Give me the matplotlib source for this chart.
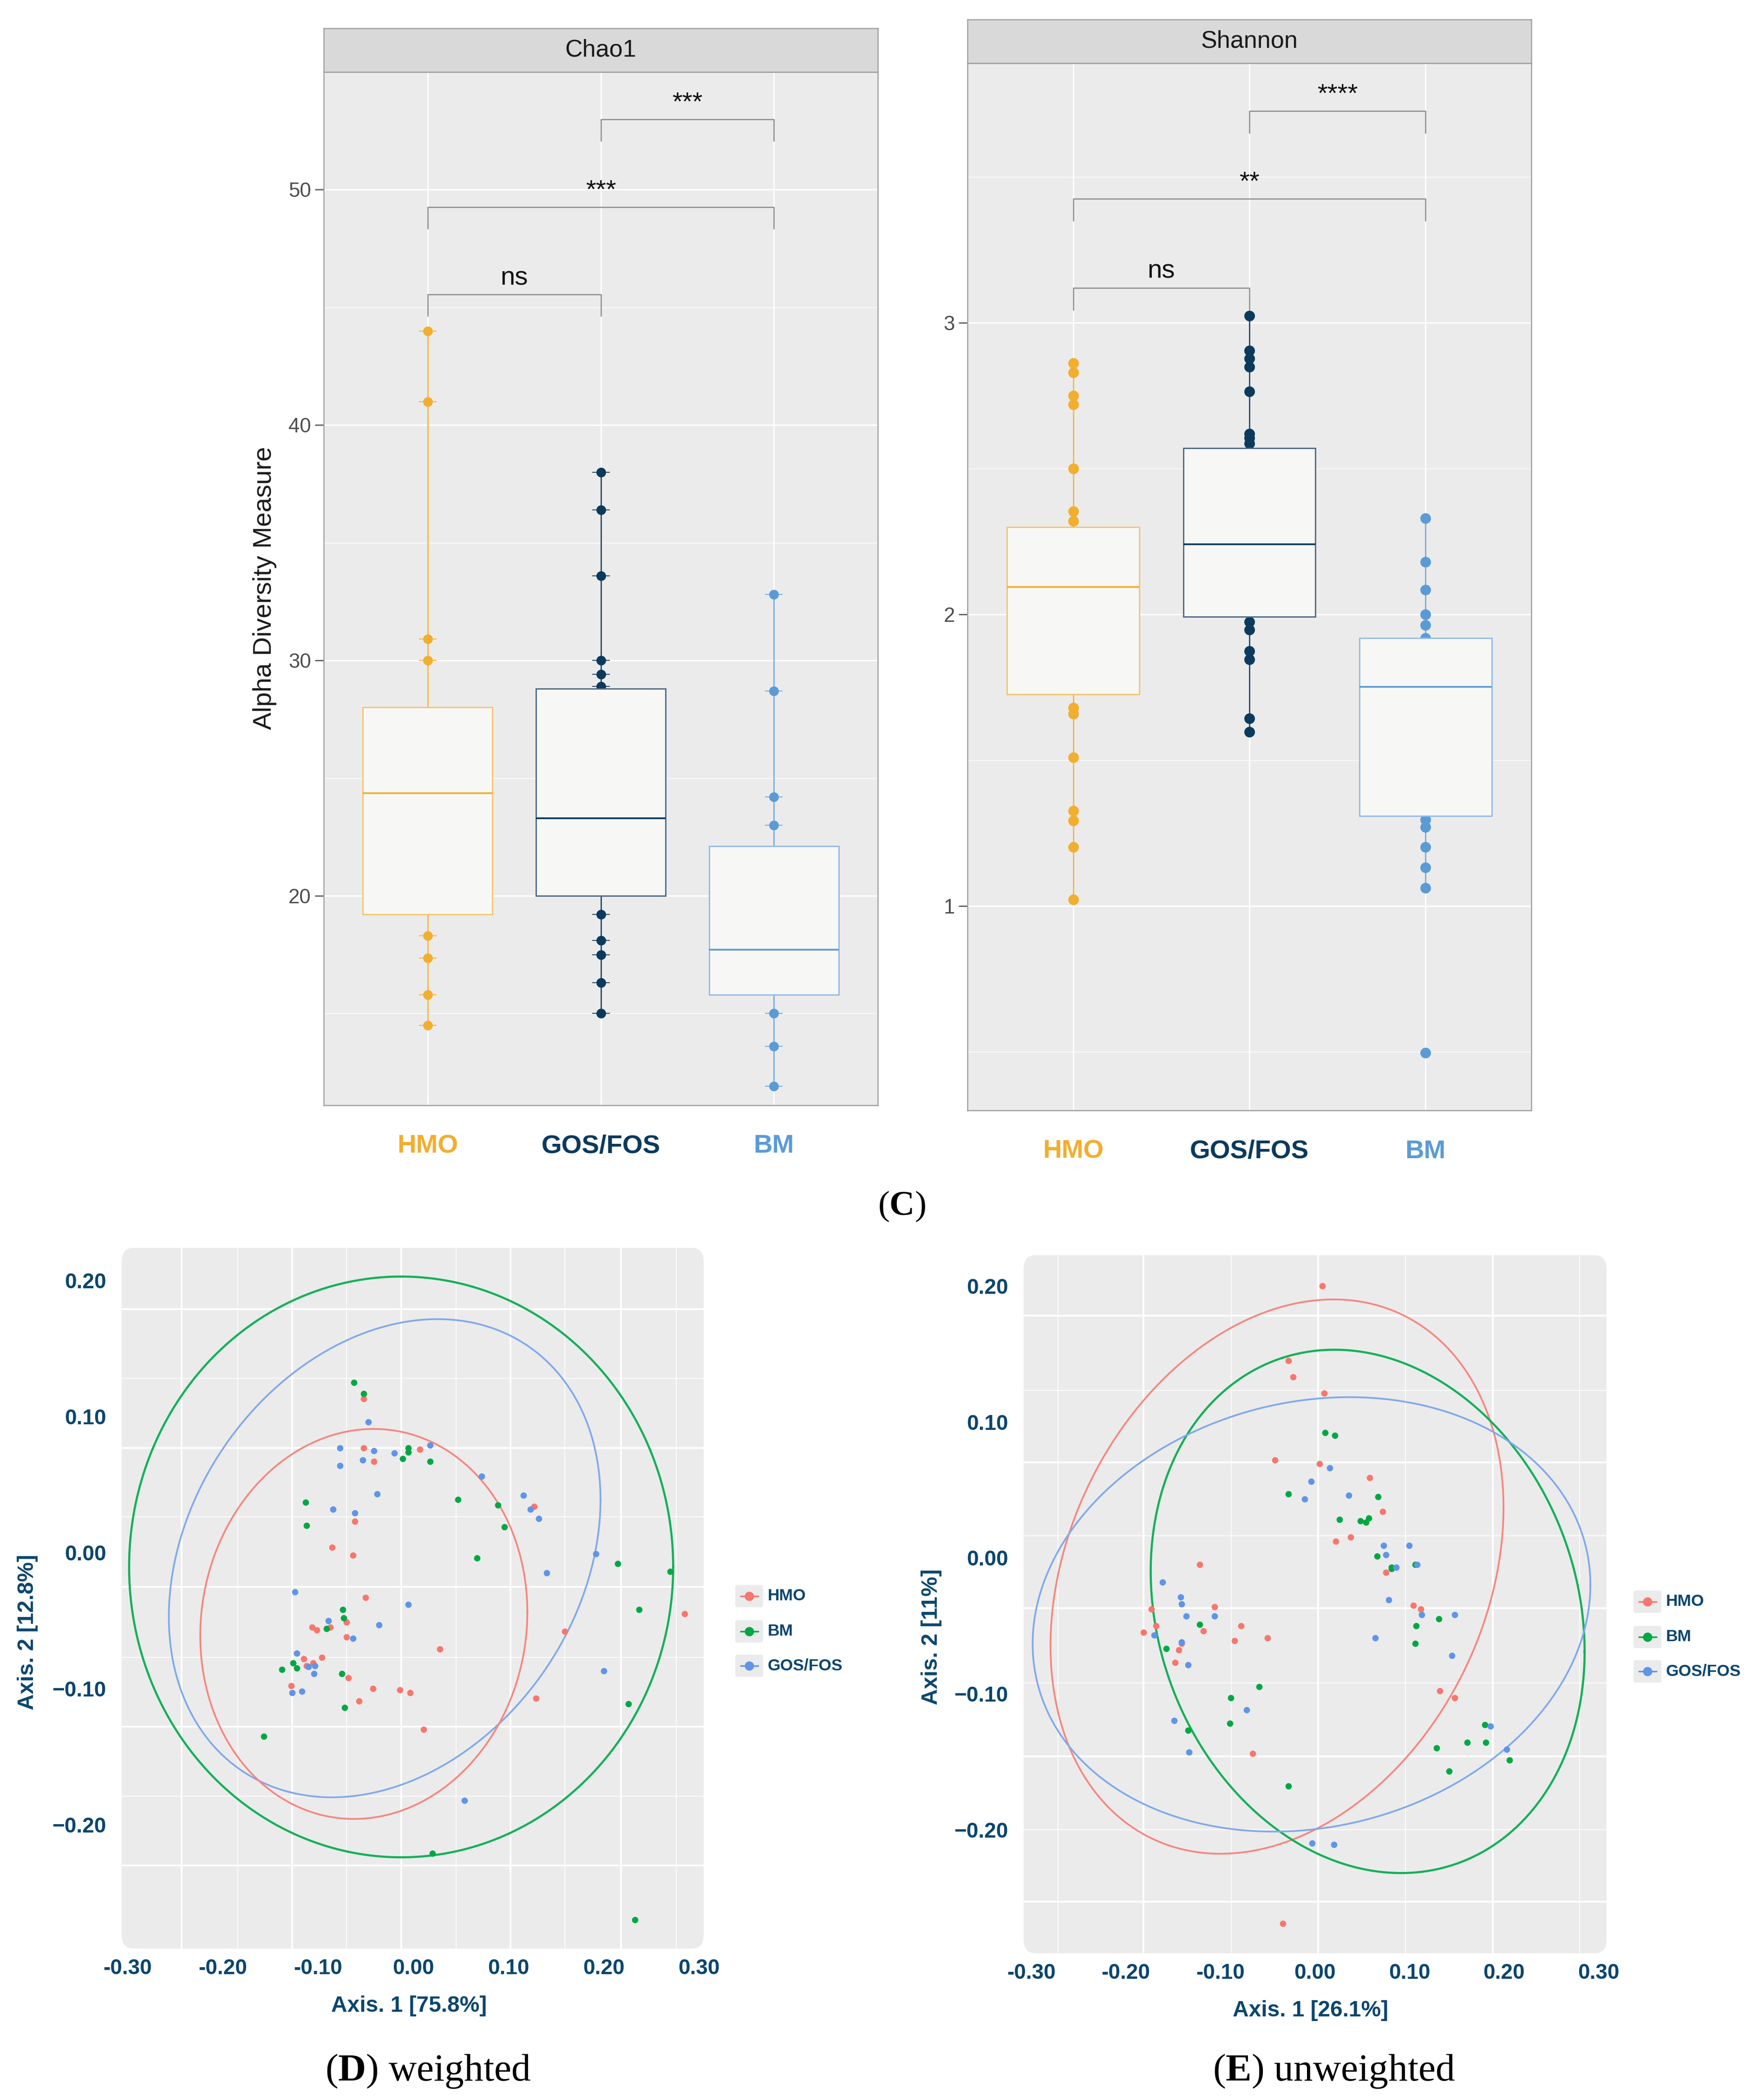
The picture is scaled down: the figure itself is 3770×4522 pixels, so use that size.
import numpy as np
import matplotlib
matplotlib.use("Agg")
import matplotlib.pyplot as plt
from matplotlib.patches import FancyBboxPatch

plt.rcParams["font.family"] = ["Liberation Sans", "DejaVu Sans"]
plt.rcParams["mathtext.fontset"] = "custom"
plt.rcParams["mathtext.rm"] = "Liberation Serif"
plt.rcParams["mathtext.bf"] = "Liberation Serif:bold"

W, H, DPI = 3770, 4522, 300

# ---------------- alpha diversity data ----------------
groups = ["HMO", "GOS/FOS", "BM"]

chao1_q1 = [19.2, 20.0, 15.8]
chao1_med = [24.35, 23.3, 17.7]
chao1_q3 = [28.0, 28.8, 22.1]
chao1_lo = [14.5, 15.0, 11.9]
chao1_hi = [44.0, 38.0, 32.8]
chao1_pts_hmo = [44.0, 41.0, 30.9, 30.0, 18.3, 17.35, 15.8, 14.5]
chao1_pts_gos = [38.0, 36.4, 33.6, 30.0, 29.4, 28.9, 19.2, 18.1, 17.5, 16.3, 15.0]
chao1_pts_bm = [32.8, 28.7, 24.2, 23.0, 15.0, 13.6, 11.9]
chao1_pairs = [(1, 2), (1, 3), (2, 3)]
chao1_bracket_y = [45.54, 49.26, 52.98]
chao1_sig = ["ns", "***", "***"]

shannon_q1 = [1.726, 1.993, 1.31]
shannon_med = [2.094, 2.24, 1.752]
shannon_q3 = [2.30, 2.571, 1.919]
shannon_lo = [1.023, 1.597, 1.063]
shannon_hi = [2.862, 3.024, 2.33]
shannon_pts_hmo = [2.862, 2.83, 2.75, 2.72, 2.5, 2.354, 2.32, 1.68, 1.66, 1.51,
                   1.327, 1.294, 1.203, 1.023]
shannon_pts_gos = [3.024, 2.904, 2.878, 2.849, 2.764, 2.62, 2.605, 2.586, 1.975,
                   1.948, 1.875, 1.846, 1.644, 1.597]
shannon_pts_bm = [2.33, 2.18, 2.084, 2.001, 1.963, 1.919, 1.297, 1.271, 1.202,
                  1.132, 1.063, 0.498]
shannon_pairs = [(1, 2), (1, 3), (2, 3)]
shannon_bracket_y = [3.12, 3.425, 3.726]
shannon_sig = ["ns", "**", "****"]

# ---------------- PCoA weighted (D) ----------------
w_hmo_x = [-0.052, -0.052, -0.041, 0.007, -0.061, -0.085, -0.063, 0.127, -0.050, -0.070,
           -0.087, -0.106, -0.101, -0.070, -0.115, -0.096, -0.105, -0.112, -0.068, -0.128,
           -0.042, -0.057, -0.014, -0.003, 0.028, 0.159, 0.129, 0.011, 0.285]
w_hmo_y = [0.113, 0.077, 0.067, 0.076, 0.023, 0.004, -0.002, 0.034, -0.033, -0.051,
           -0.055, -0.055, -0.057, -0.062, -0.078, -0.077, -0.081, -0.083, -0.092, -0.098,
           -0.100, -0.109, -0.101, -0.103, -0.071, -0.058, -0.107, -0.130, -0.045]
w_bm_x = [-0.062, -0.052, -0.005, -0.005, -0.011, 0.018, -0.113, -0.112, 0.047, 0.089,
          0.096, 0.067, 0.215, 0.270, 0.237, -0.074, -0.073, -0.091, -0.126, -0.122,
          -0.138, -0.075, -0.072, 0.226, -0.157, 0.020, 0.233]
w_bm_y = [0.125, 0.117, 0.077, 0.074, 0.069, 0.067, 0.037, 0.020, 0.039, 0.035,
          0.019, -0.004, -0.008, -0.014, -0.042, -0.042, -0.048, -0.056, -0.081, -0.085,
          -0.086, -0.089, -0.114, -0.111, -0.135, -0.221, -0.270]
w_gos_x = [-0.047, -0.077, -0.041, -0.053, -0.077, -0.020, 0.018, -0.038, -0.084, -0.061,
           0.072, 0.116, 0.123, 0.132, 0.192, 0.140, -0.124, -0.005, -0.036, -0.089,
           -0.063, -0.122, -0.110, -0.103, -0.104, -0.127, -0.117, 0.200, 0.054]
w_gos_y = [0.096, 0.077, 0.075, 0.068, 0.064, 0.073, 0.079, 0.043, 0.032, 0.029,
           0.056, 0.042, 0.032, 0.025, -0.001, -0.015, -0.029, -0.038, -0.053, -0.050,
           -0.063, -0.074, -0.084, -0.083, -0.089, -0.103, -0.102, -0.087, -0.182]
# ellipses: centre x, centre y, radius x, radius y, phase
w_ell_hmo = [-0.0518, -0.0524, 0.1717, 0.1433, 0.06]
w_ell_bm = [-0.0126, -0.0105, 0.2856, 0.2134, 0.0]
w_ell_gos = [-0.0299, -0.0041, 0.2266, 0.1757, 0.2475]

# ---------------- PCoA unweighted (E) ----------------
u_hmo_x = [0.008, -0.028, -0.023, 0.010, -0.042, 0.005, 0.058, 0.072, 0.022, 0.038,
           -0.122, 0.075, 0.104, 0.112, -0.173, -0.106, -0.168, -0.181, -0.118, -0.078,
           -0.085, -0.050, -0.141, -0.144, -0.148, 0.132, 0.148, -0.066, -0.034]
u_hmo_y = [0.200, 0.145, 0.133, 0.121, 0.072, 0.069, 0.059, 0.034, 0.012, 0.015,
           -0.005, -0.011, -0.035, -0.038, -0.038, -0.036, -0.050, -0.055, -0.054, -0.050,
           -0.061, -0.059, -0.063, -0.068, -0.077, -0.098, -0.103, -0.144, -0.269]
u_bm_x = [0.011, 0.021, -0.028, 0.067, 0.026, 0.048, 0.054, 0.057, 0.066, 0.081,
          0.081, -0.122, -0.157, 0.106, 0.131, 0.107, 0.106, -0.059, -0.089, -0.090,
          -0.134, 0.180, 0.161, 0.181, 0.129, 0.142, 0.206, -0.028]
u_bm_y = [0.092, 0.090, 0.047, 0.045, 0.028, 0.027, 0.026, 0.029, 0.001, -0.008,
          -0.007, -0.049, -0.067, -0.005, -0.045, -0.050, -0.063, -0.095, -0.103, -0.122,
          -0.127, -0.123, -0.136, -0.136, -0.140, -0.157, -0.149, -0.168]
u_gos_x = [0.016, -0.004, -0.011, 0.036, 0.073, 0.100, 0.075, 0.086, 0.108, 0.078,
           -0.161, -0.142, -0.141, -0.136, -0.106, -0.170, -0.141, -0.134, 0.113, 0.148,
           0.064, 0.145, -0.072, -0.149, -0.133, 0.186, 0.203, -0.003, 0.020]
u_gos_y = [0.066, 0.056, 0.043, 0.046, 0.009, 0.009, 0.002, -0.007, -0.005, -0.031,
           -0.018, -0.029, -0.034, -0.043, -0.043, -0.057, -0.062, -0.079, -0.042, -0.042,
           -0.059, -0.072, -0.112, -0.120, -0.143, -0.124, -0.141, -0.210, -0.211]
u_ell_hmo = [-0.040, -0.0139, 0.2396, 0.2039, 0.252]
u_ell_bm = [0.0559, -0.0395, 0.2295, 0.1925, -0.154]
u_ell_gos = [-0.0035, -0.0417, 0.295, 0.1598, 0.136]

pcoa_ticks = [-0.3, -0.2, -0.1, 0.0, 0.1, 0.2, 0.3]
pcoa_yticks = [-0.2, -0.1, 0.0, 0.1, 0.2]

# ---------------- styling ----------------
grp_col = ["#F2AE2E", "#0B3A5D", "#5B9BD5"]
edge_col = ["#F6C46E", "#4F6B86", "#93BBE8"]
whisk_col = ["#F4B847", "#2E4E6C", "#7AAEE3"]
pc_red, pc_green, pc_blue = "#F8766D", "#00A844", "#5F95E8"
el_red, el_green, el_blue = "#F7857E", "#14B058", "#7FA9EC"
navy = "#0B466E"
panel_bg = "#EBEBEB"


def rect(l, t, r, b):
    return [l / W, 1 - b / H, (r - l) / W, (b - t) / H]


fig = plt.figure(figsize=(W / DPI, H / DPI), dpi=DPI)
fig.patch.set_facecolor("white")


def ft(x, y, s, **kw):
    kw.setdefault("ha", "center")
    kw.setdefault("va", "center")
    return fig.text(x / W, 1 - y / H, s, **kw)


def alpha_panel(prect, srect, title, q1, med, q3, lo, hi, pts, ylim, major, minor,
                pairs, by, drop, sig, ms, dashes):
    ax = fig.add_axes(prect)
    ax.set_facecolor(panel_bg)
    ax.set_xlim(0.4, 3.6)
    ax.set_ylim(*ylim)
    for v in minor:
        ax.axhline(v, color="white", lw=0.35, zorder=0.5)
    for v in major:
        ax.axhline(v, color="white", lw=0.7, zorder=0.6)
    for v in [1, 2, 3]:
        ax.axvline(v, color="white", lw=0.7, zorder=0.6)

    for i in range(3):
        stats = [dict(med=med[i], q1=q1[i], q3=q3[i], whislo=lo[i], whishi=hi[i], fliers=[])]
        ax.bxp(stats, positions=[i + 1], widths=0.75, showfliers=False, showcaps=False,
               patch_artist=True, manage_ticks=False,
               boxprops=dict(facecolor="#F7F7F5", edgecolor=edge_col[i], linewidth=0.7, zorder=4),
               medianprops=dict(color=grp_col[i], linewidth=0.9, zorder=5),
               whiskerprops=dict(color=whisk_col[i], linewidth=0.7, zorder=2))
        xs = [i + 1] * len(pts[i])
        if dashes:
            ax.plot(xs, pts[i], ls="none", marker="_", ms=ms * 1.8, mew=0.5,
                    color=whisk_col[i], zorder=2.8)
        ax.plot(xs, pts[i], ls="none", marker="o", ms=ms, mec="none",
                color=grp_col[i], zorder=3)

    for (a, b), yb, s in zip(pairs, by, sig):
        ax.plot([a, a, b, b], [yb - drop, yb, yb, yb - drop], color="#8A8A8A", lw=0.6, zorder=6)
        ax.annotate(s, ((a + b) / 2, yb), xytext=(0, 5), textcoords="offset points",
                    ha="center", va="baseline", fontsize=13.5, color="#111111")

    ax.set_xticks([1, 2, 3])
    ax.set_xticklabels(groups)
    for lab, c in zip(ax.get_xticklabels(), grp_col):
        lab.set_color(c)
        lab.set_fontweight("bold")
        lab.set_fontsize(13.5)
    ax.tick_params(axis="x", length=0, pad=15)
    ax.set_yticks(major)
    ax.set_yticklabels([("%g" % v) for v in major])
    ax.tick_params(axis="y", length=4.5, width=0.6, color="#4D4D4D", labelsize=10.5,
                   labelcolor="#4D4D4D", pad=2)
    for sp in ax.spines.values():
        sp.set_color("#A0A0A0")
        sp.set_linewidth(0.6)

    st = fig.add_axes(srect)
    st.set_facecolor("#D9D9D9")
    st.set_xticks([])
    st.set_yticks([])
    for sp in st.spines.values():
        sp.set_color("#A0A0A0")
        sp.set_linewidth(0.6)
    st.text(0.5, 0.5, title, ha="center", va="center", fontsize=12.5, color="#1A1A1A",
            transform=st.transAxes)
    return ax


alpha_panel(rect(697, 155, 1890, 2380), rect(697, 61, 1890, 155), "Chao1",
            chao1_q1, chao1_med, chao1_q3, chao1_lo, chao1_hi,
            [chao1_pts_hmo, chao1_pts_gos, chao1_pts_bm], (11.1, 55.0),
            [20, 30, 40, 50], [15, 25, 35, 45], chao1_pairs, chao1_bracket_y, 0.9,
            chao1_sig, 5.0, True)
alpha_panel(rect(2083, 136, 3297, 2391), rect(2083, 42, 3297, 136), "Shannon",
            shannon_q1, shannon_med, shannon_q3, shannon_lo, shannon_hi,
            [shannon_pts_hmo, shannon_pts_gos, shannon_pts_bm], (0.30, 3.89),
            [1, 2, 3], [0.5, 1.5, 2.5, 3.5], shannon_pairs, shannon_bracket_y, 0.075,
            shannon_sig, 5.5, False)

ft(570, 1266, "Alpha Diversity Measure", rotation=90, fontsize=13.5, color="#1A1A1A")
ft(1941, 2598, r"($\mathbf{C}$)", fontsize=18, family="Liberation Serif")


# ---------------- PCoA panels ----------------
def ellipse(ax, p, color, lw, clip):
    t = np.linspace(0, 2 * np.pi, 300)
    x = p[0] + p[2] * np.cos(t)
    y = p[1] + p[3] * np.sin(t + p[4])
    ln, = ax.plot(x, y, color=color, lw=lw, zorder=3)
    ln.set_clip_path(clip)


def pcoa_panel(prect, xlim, ylim, gx_major, gx_minor, gy_major, gy_minor,
               series, ells):
    ax = fig.add_axes(prect)
    ax.set_xlim(*xlim)
    ax.set_ylim(*ylim)
    ax.patch.set_visible(False)
    for sp in ax.spines.values():
        sp.set_visible(False)
    bg = FancyBboxPatch((0, 0), 1, 1, boxstyle="round,pad=0,rounding_size=0.02",
                        transform=ax.transAxes, facecolor=panel_bg, edgecolor="none",
                        zorder=0)
    ax.add_patch(bg)
    for v in gx_minor:
        ax.axvline(v, color="white", lw=0.4, zorder=1).set_clip_path(bg)
    for v in gx_major:
        ax.axvline(v, color="white", lw=0.9, zorder=1).set_clip_path(bg)
    for v in gy_minor:
        ax.axhline(v, color="white", lw=0.4, zorder=1).set_clip_path(bg)
    for v in gy_major:
        ax.axhline(v, color="white", lw=0.9, zorder=1).set_clip_path(bg)

    for (xs, ys, c) in series:
        ax.plot(xs, ys, ls="none", marker="o", ms=3.3, mec="none", color=c, zorder=4,
                clip_on=False)
    for p, c, lw in ells:
        ellipse(ax, p, c, lw, bg)

    ax.set_xticks(pcoa_ticks)
    ax.set_xticklabels(["%.2f" % v for v in pcoa_ticks])
    ax.set_yticks(pcoa_yticks)
    ax.set_yticklabels([("%.2f" % v).replace("-", "\u2212") for v in pcoa_yticks])
    ax.tick_params(length=0, labelsize=11, labelcolor=navy)
    ax.tick_params(axis="x", pad=5)
    ax.tick_params(axis="y", pad=8)
    for lab in ax.get_xticklabels() + ax.get_yticklabels():
        lab.set_fontweight("bold")
    return ax


pcoa_panel(rect(262, 2687, 1515, 4196), (-0.306, 0.305), (-0.291, 0.224),
           [-0.243, -0.127, -0.0126, 0.102, 0.218], [-0.184, -0.070, 0.045, 0.159, 0.276],
           [0.179, 0.077, -0.0253, -0.128, -0.230], [0.128, 0.0265, -0.077, -0.179],
           [(w_hmo_x, w_hmo_y, pc_red), (w_bm_x, w_bm_y, pc_green), (w_gos_x, w_gos_y, pc_blue)],
           [(w_ell_bm, el_green, 1.1), (w_ell_gos, el_blue, 0.9), (w_ell_hmo, el_red, 0.9)])
pcoa_panel(rect(2204, 2703, 3459, 4206), (-0.308, 0.3086), (-0.291, 0.2225),
           [-0.181, 0.0035, 0.188], [-0.2715, -0.0885, 0.0958, 0.280],
           [0.178, 0.070, -0.037, -0.146, -0.253], [0.123, 0.016, -0.092, -0.200],
           [(u_hmo_x, u_hmo_y, pc_red), (u_bm_x, u_bm_y, pc_green), (u_gos_x, u_gos_y, pc_blue)],
           [(u_ell_hmo, el_red, 0.9), (u_ell_bm, el_green, 1.1), (u_ell_gos, el_blue, 0.9)])

ft(881, 4320, "Axis. 1 [75.8%]", fontsize=11.5, fontweight="bold", color=navy)
ft(2822, 4330, "Axis. 1 [26.1%]", fontsize=11.5, fontweight="bold", color=navy)
ft(60, 3515, "Axis. 2 [12.8%]", rotation=90, fontsize=11.5, fontweight="bold", color=navy)
ft(2005, 3525, "Axis. 2 [11%]", rotation=90, fontsize=11.5, fontweight="bold", color=navy)

ft(922, 4460, r"($\mathbf{D}$) weighted", fontsize=20, family="Liberation Serif")
ft(2872, 4460, r"($\mathbf{E}$) unweighted", fontsize=20, family="Liberation Serif")


# ---------------- legends ----------------
legend_labels = ["HMO", "BM", "GOS/FOS"]
legend_cols = [pc_red, pc_green, pc_blue]


def legend(x0, rows_y):
    lg = fig.add_axes(rect(x0 - 20, rows_y[0] - 60, x0 + 240, rows_y[-1] + 60))
    lg.set_xlim(x0 - 20, x0 + 240)
    lg.set_ylim(rows_y[-1] + 60, rows_y[0] - 60)
    lg.axis("off")
    for y, lab, c in zip(rows_y, legend_labels, legend_cols):
        lg.add_patch(FancyBboxPatch((x0, y - 24), 60, 48,
                                    boxstyle="round,pad=0,rounding_size=5",
                                    facecolor=panel_bg, edgecolor="none"))
        lg.plot([x0 + 12, x0 + 49], [y, y], color=c, lw=0.8)
        lg.plot([x0 + 30], [y], ls="none", marker="o", ms=4.8, mec="none", color=c)
        lg.text(x0 + 70, y, lab, ha="left", va="center", fontsize=8.5, fontweight="bold",
                color=navy)


legend(1583, [3437, 3513, 3587])
legend(3517, [3449, 3525, 3599])

plt.savefig("out.png", dpi=DPI, facecolor="white")
